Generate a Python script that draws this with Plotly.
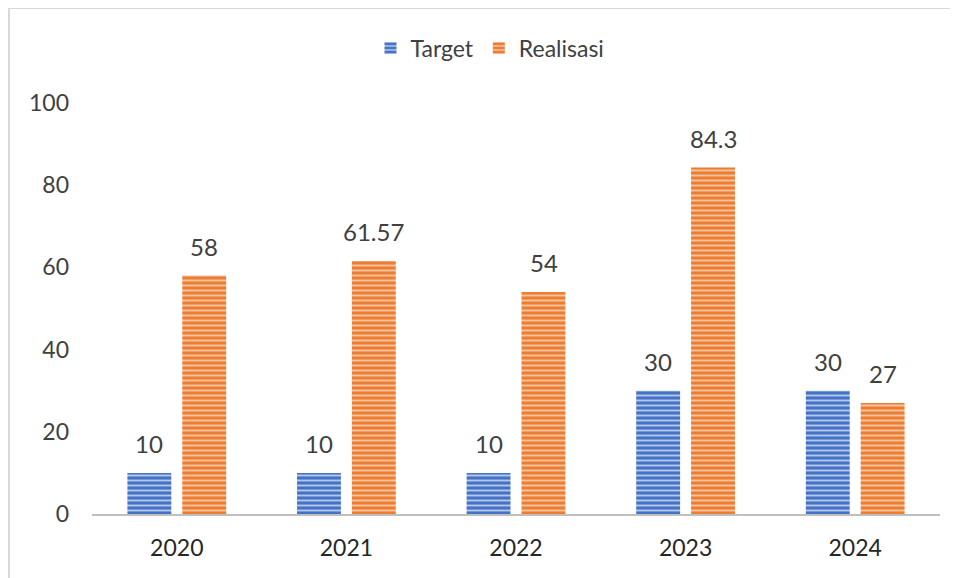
import plotly.graph_objects as go

years = ["2020", "2021", "2022", "2023", "2024"]
target = [10, 10, 10, 30, 30]
realisasi = [58, 61.57, 54, 84.3, 27]
target_labels = ["10", "10", "10", "30", "30"]
realisasi_labels = ["58", "61.57", "54", "84.3", "27"]
y_ticks = [0, 20, 40, 60, 80, 100]

BLUE = "#4472C4"
ORANGE = "#ED7D31"
TEXT = "#404040"
FONT = "Lato, 'Open Sans', sans-serif"

# the page body has an 8px margin, so the figure is drawn 8px in from the window edge
W, H = 950, 570
MARGIN = {"l": 84, "r": 18, "t": 95, "b": 64}
PLOT_W = W - MARGIN["l"] - MARGIN["r"]
PLOT_H = H - MARGIN["t"] - MARGIN["b"]


def striped(base: str, light: str) -> dict:
    return {
        "color": base,
        "line": {"width": 0},
        "pattern": {
            "shape": "-",
            "bgcolor": base,
            "fgcolor": light,
            "size": 5,
            "solidity": 0.38,
            "fillmode": "replace",
        },
    }


fig = go.Figure()
fig.add_trace(go.Bar(name="Target", x=years, y=target, marker=striped(BLUE, "#b4c8ee")))
fig.add_trace(go.Bar(name="Realisasi", x=years, y=realisasi, marker=striped(ORANGE, "#f8c4a0")))

# value labels above each bar; on a category axis the annotation x is the category index
# (a "2020" string would be read as index 2020 and blow up the autorange)
for values, labels, dx in ((target, target_labels, -27.5), (realisasi, realisasi_labels, 27.5)):
    for i, (y, t) in enumerate(zip(values, labels)):
        fig.add_annotation(
            x=i, y=y, text=t, showarrow=False, xshift=dx, yshift=13,
            yanchor="bottom", font={"size": 24, "color": TEXT, "family": FONT},
        )

# chart frame (top and left edges visible)
top = 1 + MARGIN["t"] / PLOT_H
left = (1 - MARGIN["l"]) / PLOT_W
fig.add_shape(type="line", xref="paper", yref="paper", x0=left, x1=1.1, y0=top, y1=top,
              line={"color": "#d9d9d9", "width": 2})
fig.add_shape(type="line", xref="paper", yref="paper", x0=left, x1=left, y0=top, y1=-0.2,
              line={"color": "#d9d9d9", "width": 2})

fig.update_layout(
    width=W,
    height=H,
    margin=MARGIN,
    plot_bgcolor="white",
    paper_bgcolor="white",
    font={"family": FONT, "color": TEXT, "size": 22},
    barmode="group",
    bargap=0.353,
    bargroupgap=0.2,
    legend={
        "orientation": "h",
        "x": (482 - MARGIN["l"]) / PLOT_W,
        "xanchor": "center",
        "y": 1 + (MARGIN["t"] - 40) / PLOT_H,
        "yanchor": "middle",
        "font": {"size": 23, "color": TEXT},
        "itemwidth": 30,
    },
    showlegend=True,
)
fig.update_xaxes(
    type="category", range=[-0.5, 4.5], automargin=False,
    showline=True, linecolor="#bfbfbf", linewidth=2, showgrid=False,
    tickfont={"size": 23, "color": "#262626"}, ticks="", ticklabelstandoff=12,
)
fig.update_yaxes(
    range=[0, 100], tickvals=y_ticks, automargin=False,
    showgrid=False, showline=False, zeroline=False,
    ticks="", ticklabelstandoff=22, tickfont={"size": 23, "color": TEXT},
)

fig.write_html("out.html")
